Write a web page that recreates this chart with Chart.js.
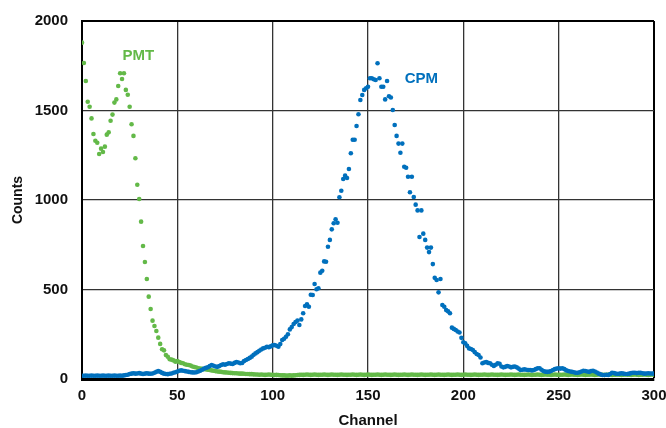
<!DOCTYPE html>
<html>
<head>
<meta charset="utf-8">
<title>PMT vs CPM</title>
<script src="https://cdn.jsdelivr.net/npm/chart.js@4/dist/chart.umd.min.js"></script>
<style>
  html, body { margin: 0; padding: 0; background: #fff; }
  #chart { display: block; }
</style>
</head>
<body>
<canvas id="chart" width="666" height="428"></canvas>
<script>
// ── Data (one value per channel 0..300) ──
const xTicks = [0, 50, 100, 150, 200, 250, 300];
const yTicks = [0, 500, 1000, 1500, 2000];

const pmtCounts = [
  1879, 1765, 1665, 1549, 1521, 1456, 1369, 1331, 1320, 1257,
  1287, 1268, 1298, 1365, 1378, 1443, 1477, 1544, 1562, 1637,
  1708, 1676, 1708, 1615, 1588, 1521, 1423, 1358, 1233, 1085,
  1006, 879, 743, 654, 559, 460, 391, 326, 296, 268,
  231, 196, 166, 160, 134, 124, 110, 108, 104, 97,
  100, 95, 90, 88, 82, 80, 78, 75, 70, 67,
  64, 60, 59, 57, 55, 54, 52, 50, 48, 46,
  44, 42, 41, 40, 38, 37, 36, 35, 34, 33,
  32, 32, 31, 30, 30, 29, 28, 28, 27, 27,
  26, 25, 25, 24, 25, 24, 23, 24, 25, 24,
  23, 22, 23, 22, 21, 20, 20, 19, 19, 20,
  19, 20, 21, 22, 23, 24, 23, 24, 25, 24,
  23, 24, 25, 24, 23, 24, 24, 25, 24, 23,
  24, 25, 24, 24, 23, 24, 25, 24, 24, 23,
  24, 24, 25, 24, 23, 24, 25, 24, 23, 24,
  25, 24, 23, 24, 24, 25, 24, 23, 24, 25,
  24, 24, 23, 24, 25, 24, 23, 24, 24, 25,
  24, 23, 24, 25, 24, 24, 23, 24, 25, 24,
  23, 24, 24, 25, 24, 23, 24, 25, 24, 24,
  23, 24, 25, 24, 23, 24, 24, 25, 24, 23,
  24, 25, 24, 24, 23, 24, 25, 24, 23, 24,
  24, 25, 24, 23, 24, 25, 24, 24, 23, 24,
  25, 24, 23, 24, 24, 25, 24, 23, 24, 25,
  24, 24, 23, 24, 25, 24, 23, 24, 24, 25,
  24, 23, 24, 25, 24, 24, 23, 24, 25, 24,
  23, 24, 24, 25, 24, 23, 24, 25, 24, 24,
  23, 24, 25, 24, 23, 24, 24, 25, 24, 23,
  24, 25, 24, 24, 23, 24, 25, 24, 23, 24,
  24, 25, 24, 23, 24, 25, 24, 24, 23, 24,
  25, 24, 23, 24, 24, 25, 24, 23, 24, 25,
  24
];

const cpmCounts = [
  18, 18, 19, 18, 18, 19, 18, 18, 19, 18,
  18, 19, 18, 18, 19, 18, 18, 19, 18, 18,
  19, 18, 20, 22, 24, 28, 30, 32, 30, 31,
  33, 30, 28, 30, 32, 30, 29, 31, 35, 40,
  44, 40, 34, 30, 28, 27, 29, 31, 35, 38,
  42, 46, 48, 46, 44, 42, 40, 38, 37, 36,
  38, 42, 46, 52, 58, 62, 66, 72, 78, 74,
  70, 68, 72, 78, 82, 80, 84, 88, 86, 84,
  90, 95, 92, 88, 90, 100, 106, 112, 118, 125,
  135, 143, 150, 158, 165, 171, 175, 180, 178, 182,
  188, 190, 186, 180, 195, 218, 225, 236, 250, 277,
  290, 307, 318, 326, 302, 333, 367, 408, 417, 404,
  471, 469, 531, 501, 507, 594, 605, 657, 655, 739,
  777, 836, 870, 892, 873, 1015, 1052, 1117, 1136, 1123,
  1173, 1261, 1337, 1337, 1413, 1479, 1559, 1587, 1615, 1624,
  1633, 1680, 1680, 1675, 1670, 1764, 1680, 1633, 1633, 1562,
  1665, 1580, 1573, 1503, 1419, 1358, 1315, 1264, 1315, 1186,
  1180, 1130, 1043, 1130, 1017, 974, 942, 793, 942, 812,
  777, 734, 709, 734, 642, 565, 553, 484, 559, 413,
  404, 385, 378, 367, 287, 280, 274, 265, 260, 230,
  205, 199, 185, 171, 168, 162, 150, 140, 134, 120,
  88, 92, 95, 90, 88, 80, 73, 80, 88, 85,
  70, 65, 68, 73, 70, 65, 68, 70, 65, 58,
  50, 52, 54, 52, 50, 50, 48, 50, 55, 60,
  60, 52, 45, 41, 40, 41, 45, 50, 55, 58,
  60, 58, 60, 55, 48, 45, 42, 40, 38, 35,
  35, 38, 42, 46, 45, 42, 40, 44, 46, 42,
  36, 30, 26, 22, 22, 24, 22, 28, 35, 33,
  30, 28, 30, 32, 30, 28, 28, 30, 33, 35,
  35, 33, 35, 34, 32, 30, 31, 32, 31, 31,
  30
];

const seriesNames = ['CPM', 'PMT'];
const seriesColors = ['#0070bd', '#63b948'];
// label anchors in data units [channel, counts]
const labelAnchors = [[178, 1676], [29.5, 1804]];

const FONT = '"Liberation Sans", Arial, Helvetica, sans-serif';

function toPoints(arr) {
  return arr.map((v, i) => ({ x: i, y: v }));
}

// ── Series name labels drawn inside the plot ─────────────
const seriesLabels = {
  id: 'seriesLabels',
  afterDatasetsDraw(chart) {
    const { ctx, scales: { x, y } } = chart;
    ctx.save();
    ctx.font = 'bold 15px ' + FONT;
    ctx.textAlign = 'center';
    ctx.textBaseline = 'middle';
    seriesNames.forEach((name, i) => {
      ctx.fillStyle = seriesColors[i];
      ctx.fillText(name, x.getPixelForValue(labelAnchors[i][0]), y.getPixelForValue(labelAnchors[i][1]));
    });
    ctx.restore();
  }
};

const edgeColor = (ctx, max) => (ctx.tick && ctx.tick.value === max ? '#000' : '#333');
const edgeWidth = (ctx, max) => (ctx.tick && ctx.tick.value === max ? 2 : 1.3);

new Chart(document.getElementById('chart'), {
  type: 'scatter',
  data: {
    datasets: [
      { label: seriesNames[0], data: toPoints(cpmCounts), backgroundColor: seriesColors[0], borderWidth: 0, pointRadius: 2.3, pointHoverRadius: 2.3 },
      { label: seriesNames[1], data: toPoints(pmtCounts), backgroundColor: seriesColors[1], borderWidth: 0, pointRadius: 2.3, pointHoverRadius: 2.3 }
    ]
  },
  options: {
    responsive: false,
    animation: false,
    events: [],
    layout: { padding: { left: 0, right: 12, top: 21, bottom: 0 } },
    plugins: { legend: { display: false }, tooltip: { enabled: false } },
    scales: {
      x: {
        type: 'linear',
        min: xTicks[0],
        max: xTicks[xTicks.length - 1],
        afterBuildTicks: s => { s.ticks = xTicks.map(v => ({ value: v })); },
        afterFit: s => { s.height = 49; s.paddingLeft = 0; s.paddingRight = 0; },
        ticks: { color: '#111', padding: 8, maxRotation: 0, callback: v => String(v), font: { family: FONT, size: 15, weight: 'bold' } },
        grid: { drawTicks: false, color: c => edgeColor(c, 300), lineWidth: c => edgeWidth(c, 300) },
        border: { color: '#000', width: 3 },
        title: { display: true, text: 'Channel', color: '#111', padding: { top: 0, bottom: 0 }, font: { family: FONT, size: 15, weight: 'bold', lineHeight: 1 } }
      },
      y: {
        min: yTicks[0],
        max: yTicks[yTicks.length - 1],
        afterBuildTicks: s => { s.ticks = yTicks.map(v => ({ value: v })); },
        afterFit: s => { s.width = 82; s.paddingTop = 0; s.paddingBottom = 0; },
        ticks: { color: '#111', padding: 14, callback: v => String(v), font: { family: FONT, size: 15, weight: 'bold' } },
        grid: { drawTicks: false, color: c => edgeColor(c, 2000), lineWidth: c => edgeWidth(c, 2000) },
        border: { color: '#000', width: 2 },
        title: { display: true, text: 'Counts', color: '#111', padding: { top: 11, bottom: 0 }, font: { family: FONT, size: 14, weight: 'bold', lineHeight: 1 } }
      }
    }
  },
  plugins: [seriesLabels]
});
</script>
</body>
</html>
